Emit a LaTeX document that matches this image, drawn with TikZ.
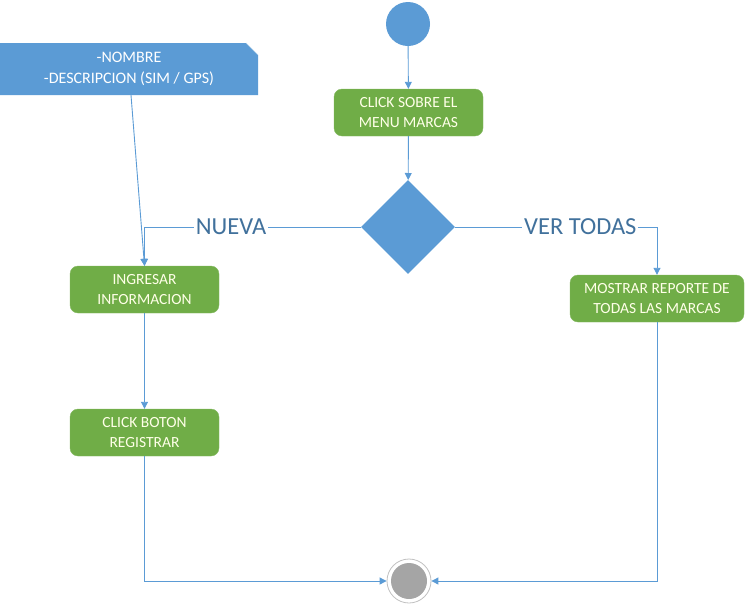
\documentclass[tikz,border=0pt]{standalone}
\usepackage{fontspec}
\setmainfont{Carlito}
\usetikzlibrary{arrows.meta,shapes.geometric}
\definecolor{cblue}{HTML}{5B9BD5}
\definecolor{cgreen}{HTML}{70AD47}
\definecolor{ctext}{HTML}{FFFFE8}
\definecolor{clabel}{HTML}{41719C}
\definecolor{cgray}{HTML}{A5A5A5}
\begin{document}
\begin{tikzpicture}[x=1pt,y=-1pt,
  act/.style={rectangle, rounded corners=8pt, fill=cgreen, draw=cgreen!85!white, minimum width=149pt, minimum height=47pt, align=center, text=ctext, font=\fontsize{15.5}{20}\selectfont, inner sep=0pt},
  flow/.style={draw=cblue, line width=0.9pt, -{Triangle[width=7pt,length=7pt]}},
  lbl/.style={text=clabel, font=\fontsize{24.5}{26}\selectfont, fill=white, inner sep=2pt}]
\useasboundingbox (0,0) rectangle (747,606);
% note
\fill[cblue] (0,43) -- (246,43) -- (258,55) -- (258,95) -- (0,95) -- cycle;
\draw[cblue!50, line width=0.6pt] (246,43) -- (258,55);
\node[text=white, font=\fontsize{16}{21}\selectfont, align=center] (note) at (129,68.5) {-NOMBRE\\-DESCRIPCION (SIM / GPS)};
\coordinate (notebot) at (131,95);
% nodes
\node[circle, fill=cblue, minimum size=44pt, inner sep=0pt] (start) at (408,24) {};
\node[act] (menu) at (408.5,112.5) {CLICK SOBRE EL\\MENU MARCAS};
\node[diamond, fill=cblue, minimum width=94pt, minimum height=94pt, inner sep=0pt] (dec) at (408,227) {};
\node[act] (ingresar) at (144.5,289.5) {INGRESAR\\INFORMACION};
\node[act] (boton) at (144.5,432.5) {CLICK BOTON\\REGISTRAR};
\node[act, minimum width=174pt] (mostrar) at (657,298.5) {MOSTRAR REPORTE DE\\TODAS LAS MARCAS};
\node[circle, draw=cgray!70, line width=0.8pt, minimum size=44pt, inner sep=0pt] (end) at (409,581) {};
\node[circle, fill=cgray, minimum size=36pt, inner sep=0pt] (endin) at (end) {};
% connectors
\draw[flow] (start) -- (menu);
\draw[flow] (menu) -- (dec);
\draw[flow] (dec.west) -| node[lbl, pos=0.3]{NUEVA} (ingresar.north);
\draw[flow] (dec.east) -| node[lbl, pos=0.31]{VER TODAS} (mostrar.north);
\draw[flow] (notebot) -- (ingresar.north);
\draw[flow] (ingresar) -- (boton);
\draw[flow] (boton.south) |- (end.west);
\draw[flow] (mostrar.south) |- (end.east);
\end{tikzpicture}
\end{document}
